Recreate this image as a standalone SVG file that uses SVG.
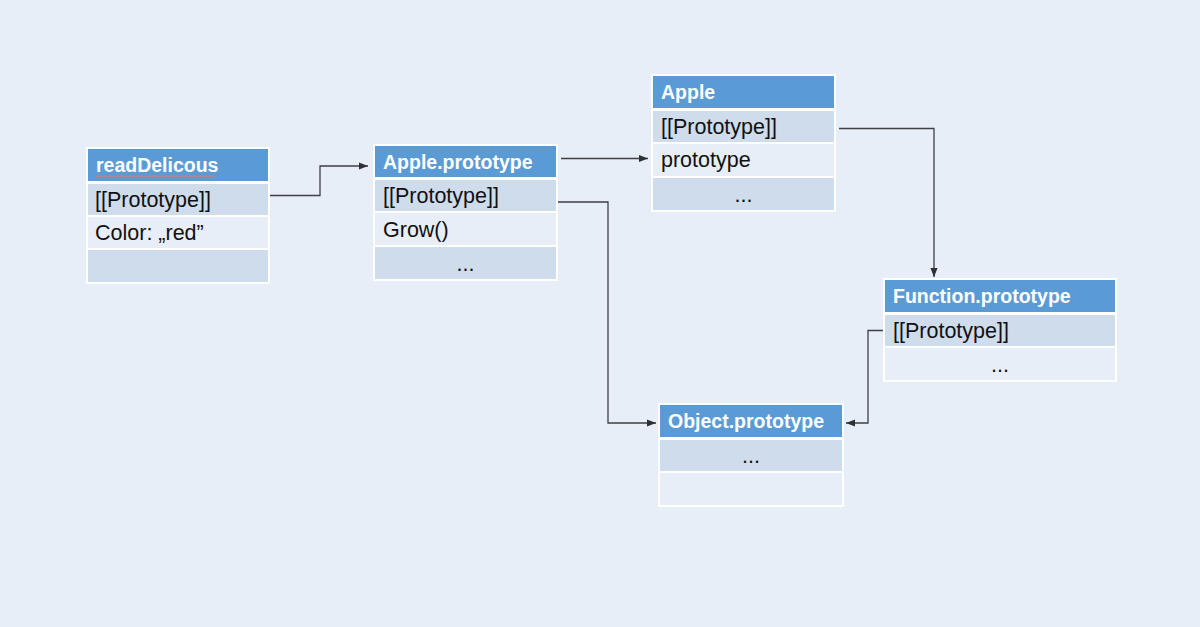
<svg xmlns="http://www.w3.org/2000/svg" width="1200" height="627" viewBox="0 0 1200 627">
<defs>
<style>
.hd{fill:#5B9BD5;stroke:#fff;stroke-width:2}
.dk{fill:#CFDCEC;stroke:#fff;stroke-width:2}
.lt{fill:#E8EEF7;stroke:#fff;stroke-width:2}
.ht{font-family:"Liberation Sans",Arial,sans-serif;font-weight:bold;font-size:19.5px;fill:#fff}
.rt{font-family:"Liberation Sans",Arial,sans-serif;font-size:21.5px;fill:#111}
.ct{text-anchor:middle}
.cn{fill:none;stroke:#3F3F46;stroke-width:1.3}
</style>
<marker id="ah" viewBox="0 0 10 10" refX="10" refY="5" markerWidth="9" markerHeight="9" markerUnits="userSpaceOnUse" orient="auto">
<path d="M0,1 L10,5 L0,9 z" fill="#2F2F36"/>
</marker>
</defs>
<rect width="1200" height="627" fill="#E8EEF7"/>

<g id="connectors">
<path class="cn" d="M270,195.5 H320 V166 H368" marker-end="url(#ah)"/>
<path class="cn" d="M561,158.5 H648" marker-end="url(#ah)"/>
<path class="cn" d="M557,202 H608 V423 H656" marker-end="url(#ah)"/>
<path class="cn" d="M839,128.5 H934 V277" marker-end="url(#ah)"/>
<path class="cn" d="M887,330.5 H868 V423 H846" marker-end="url(#ah)"/>
</g>

<g id="readDelicous">
<rect class="hd" x="87" y="148" width="182" height="34"/>
<rect class="dk" x="87" y="183" width="182" height="33"/>
<rect class="lt" x="87" y="216" width="182" height="33"/>
<rect class="dk" x="87" y="249" width="182" height="34"/>
<text class="ht" x="96" y="172">readDelicous</text>
<path d="M96,177 l2,-1.5 l2,1.5 l2,-1.5 l2,1.5 l2,-1.5 l2,1.5 l2,-1.5 l2,1.5 l2,-1.5 l2,1.5 l2,-1.5 l2,1.5 l2,-1.5 l2,1.5 l2,-1.5 l2,1.5 l2,-1.5 l2,1.5 l2,-1.5 l2,1.5 l2,-1.5 l2,1.5 l2,-1.5 l2,1.5 l2,-1.5 l2,1.5 l2,-1.5 l2,1.5 l2,-1.5 l2,1.5 l2,-1.5 l2,1.5 l2,-1.5 l2,1.5 l2,-1.5 l2,1.5 l2,-1.5 l2,1.5 l2,-1.5 l2,1.5 l2,-1.5 l2,1.5 l2,-1.5 l2,1.5 l2,-1.5 l2,1.5 l2,-1.5 l2,1.5 l2,-1.5 l2,1.5 l2,-1.5 l2,1.5 l2,-1.5 l2,1.5 l2,-1.5 l2,1.5 l2,-1.5 l2,1.5 l2,-1.5" fill="none" stroke="#D9797E" stroke-width="1"/>
<text class="rt" x="95" y="207">[[Prototype]]</text>
<text class="rt" x="95" y="240">Color: „red”</text>
</g>

<g id="apple-prototype">
<rect class="hd" x="374" y="145" width="183" height="33"/>
<rect class="dk" x="374" y="179" width="183" height="33"/>
<rect class="lt" x="374" y="212" width="183" height="34"/>
<rect class="dk" x="374" y="246" width="183" height="34"/>
<text class="ht" x="383" y="169">Apple.prototype</text>
<text class="rt" x="383" y="203">[[Prototype]]</text>
<text class="rt" x="383" y="237">Grow()</text>
<text class="rt ct" x="465.5" y="271">...</text>
</g>

<g id="apple">
<rect class="hd" x="652" y="75" width="183" height="34"/>
<rect class="dk" x="652" y="110" width="183" height="33"/>
<rect class="lt" x="652" y="143" width="183" height="34"/>
<rect class="dk" x="652" y="177" width="183" height="34"/>
<text class="ht" x="661" y="99">Apple</text>
<text class="rt" x="661" y="134">[[Prototype]]</text>
<text class="rt" x="661" y="167">prototype</text>
<text class="rt ct" x="743.5" y="202">...</text>
</g>

<g id="function-prototype">
<rect class="hd" x="884" y="279" width="232" height="34"/>
<rect class="dk" x="884" y="314" width="232" height="33"/>
<rect class="lt" x="884" y="347" width="232" height="34"/>
<text class="ht" x="893" y="303">Function.prototype</text>
<text class="rt" x="893" y="338">[[Prototype]]</text>
<text class="rt ct" x="1000" y="372">...</text>
</g>

<g id="object-prototype">
<rect class="hd" x="659" y="404" width="184" height="34"/>
<rect class="dk" x="659" y="439" width="184" height="33"/>
<rect class="lt" x="659" y="472" width="184" height="34"/>
<text class="ht" x="668" y="428">Object.prototype</text>
<text class="rt ct" x="751" y="463">...</text>
</g>
</svg>
